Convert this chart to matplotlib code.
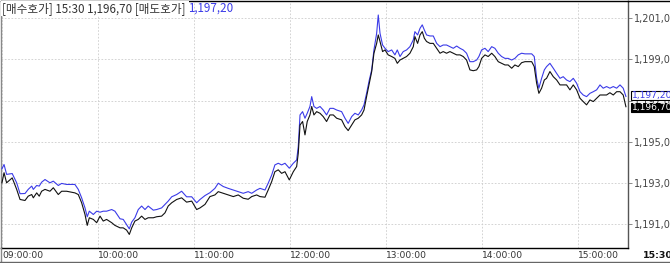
import matplotlib
matplotlib.use("Agg")
import matplotlib.pyplot as plt
import matplotlib.transforms as mtransforms
from matplotlib.lines import Line2D

# ---------------- data (minutes after 09:00) ----------------
time_min = [
    0, 1.3, 2.9, 6.4, 9.2, 11.3, 14.4, 16.4, 18.6, 19.6, 21.7, 23.3, 24.8, 26.9, 30.0, 32.1,
    35.2, 37.3, 40.4, 45.6, 47.7, 49.8, 51.9, 53.3, 54.6, 57.1, 59.2, 61.3, 63.3, 65.4, 68.6,
    70.6, 73.8, 75.8, 77.9, 79.6, 81.1, 83.1, 85.2, 87.3, 89.4, 91.4, 94.6, 96.7, 99.8, 101.9,
    103.9, 106.1, 109.2, 112.3, 115.4, 118.6, 121.7, 123.8, 126.9,
    130.0, 133.1, 135.2, 138.3, 141.4, 144.6, 147.7, 150.8, 153.9, 156.1, 159.2, 161.3, 164.4,
    166.4, 168.6, 170.6, 172.7, 174.8, 176.9, 179.6, 182.1, 184.2, 185.2, 186.3, 187.9, 189.4,
    190.8, 192.5, 193.6, 195.0, 196.7, 198.8, 200.8, 202.9, 205.0, 207.1, 209.2, 212.3, 214.4,
    216.4, 218.6, 220.6, 222.7, 224.8, 226.3, 227.9, 229.6, 231.1, 232.5, 234.2, 235.2, 236.3,
    237.9, 239.4, 241.4, 243.6, 245.6, 247.1, 248.8, 250.8, 252.9, 255.0, 257.1,
    258.1, 259.8, 261.3, 262.7, 264.0, 265.4, 267.5, 269.6, 271.7, 273.8, 275.8, 277.9, 280.0,
    282.1, 284.2, 286.3, 288.3, 290.4, 292.5, 294.6, 296.7, 298.1, 299.8, 301.9, 303.9, 306.1,
    308.1, 310.2, 312.3, 314.4, 316.4, 318.6, 320.6, 322.7, 324.8, 326.9, 329.0, 331.1, 332.7,
    334.2, 335.6, 337.3, 339.0, 340.4, 342.5, 344.6, 346.7, 348.8, 350.8, 352.9, 355.0, 357.1,
    359.2, 361.3, 363.3, 365.4, 367.5, 369.6, 371.7, 373.8, 375.8, 377.9, 380.0, 382.1, 384.2,
    386.3, 388.3, 390.0,
]

bid = [  # 매수호가 (black)
    1193.00, 1193.49, 1193.00, 1193.24, 1192.68, 1192.19, 1192.14, 1192.35, 1192.43, 1192.27,
    1192.51, 1192.35, 1192.59, 1192.68, 1192.59, 1192.76, 1192.43, 1192.59, 1192.59, 1192.51,
    1192.43, 1192.03, 1191.46, 1190.93, 1191.30, 1191.22, 1191.06, 1191.38, 1191.14, 1191.22,
    1191.06, 1190.93, 1190.81, 1190.81, 1190.70, 1190.49, 1190.81, 1191.14, 1191.22, 1191.38,
    1191.22, 1191.30, 1191.30, 1191.35, 1191.38, 1191.54, 1191.87, 1192.03, 1192.19, 1192.27,
    1192.06, 1192.11, 1191.70, 1191.78, 1191.95,
    1192.33, 1192.41, 1192.57, 1192.49, 1192.41, 1192.33, 1192.41, 1192.25, 1192.20, 1192.33,
    1192.41, 1192.33, 1192.30, 1192.65, 1193.06, 1193.54, 1193.63, 1193.46, 1193.54, 1193.14,
    1193.54, 1193.79, 1194.44, 1195.81, 1195.98, 1195.33, 1195.98, 1196.30, 1196.71, 1196.30,
    1196.46, 1196.38, 1196.22, 1195.98, 1196.30, 1196.30, 1196.14, 1196.06, 1195.73, 1195.54,
    1195.81, 1196.06, 1196.14, 1196.30, 1196.54, 1197.19, 1197.84, 1198.41, 1199.30, 1199.78,
    1200.19, 1199.87, 1199.38, 1199.46, 1199.22, 1199.14, 1199.05, 1198.81, 1198.97, 1199.05,
    1199.14, 1199.30, 1199.62,
    1200.11, 1199.78, 1200.19, 1200.35, 1200.03, 1199.87, 1199.78, 1199.78, 1199.54, 1199.30,
    1199.38, 1199.30, 1199.38, 1199.30, 1199.22, 1199.22, 1199.14, 1198.97, 1198.49, 1198.45,
    1198.49, 1198.65, 1199.05, 1199.22, 1199.14, 1199.30, 1199.14, 1198.89, 1198.81, 1198.73,
    1198.73, 1198.57, 1198.73, 1198.65, 1198.84, 1198.89, 1198.89, 1198.89, 1198.65, 1197.84,
    1197.35, 1197.60, 1198.00, 1198.08, 1198.41, 1198.16, 1198.00, 1197.76, 1197.76, 1197.76,
    1197.52, 1197.76, 1197.52, 1197.11, 1196.95, 1196.79, 1197.03, 1196.95, 1197.11, 1197.27,
    1197.27, 1197.27, 1197.38, 1197.27, 1197.43, 1197.43, 1197.27, 1196.70,
]

ask = [  # 매도호가 (blue)
    1193.68, 1193.89, 1193.41, 1193.45, 1193.00, 1192.47, 1192.48, 1192.68, 1192.84, 1192.68,
    1192.87, 1192.84, 1193.03, 1193.16, 1193.00, 1193.08, 1192.87, 1192.97, 1192.92, 1192.92,
    1192.68, 1192.27, 1191.78, 1191.35, 1191.62, 1191.46, 1191.62, 1191.57, 1191.62, 1191.62,
    1191.70, 1191.62, 1191.25, 1191.22, 1190.97, 1190.76, 1191.09, 1191.30, 1191.70, 1191.87,
    1191.70, 1191.87, 1191.67, 1191.70, 1191.78, 1191.95, 1192.11, 1192.32, 1192.43, 1192.59,
    1192.32, 1192.32, 1192.03, 1192.19, 1192.38,
    1192.52, 1192.73, 1192.98, 1192.82, 1192.73, 1192.65, 1192.57, 1192.49, 1192.57, 1192.49,
    1192.65, 1192.73, 1192.65, 1192.98, 1193.38, 1193.87, 1193.95, 1193.87, 1193.95, 1193.71,
    1193.95, 1194.11, 1194.76, 1196.30, 1196.46, 1196.14, 1196.38, 1196.71, 1197.19, 1196.71,
    1196.62, 1196.71, 1196.54, 1196.30, 1196.62, 1196.62, 1196.54, 1196.46, 1196.14, 1195.89,
    1196.22, 1196.38, 1196.30, 1196.54, 1196.79, 1197.35, 1198.00, 1198.49, 1199.46, 1200.27,
    1201.16, 1200.27, 1199.70, 1199.54, 1199.38, 1199.46, 1199.22, 1199.46, 1199.14, 1199.38,
    1199.46, 1199.62, 1199.95,
    1200.35, 1200.19, 1200.51, 1200.68, 1200.43, 1200.19, 1200.14, 1200.14, 1199.78, 1199.62,
    1199.70, 1199.70, 1199.62, 1199.54, 1199.65, 1199.54, 1199.46, 1199.30, 1198.89, 1198.89,
    1198.97, 1199.14, 1199.46, 1199.54, 1199.38, 1199.62, 1199.54, 1199.30, 1199.14, 1199.05,
    1199.05, 1198.97, 1199.05, 1199.22, 1199.30, 1199.27, 1199.27, 1199.27, 1199.14, 1198.08,
    1197.60, 1198.08, 1198.49, 1198.65, 1198.81, 1198.57, 1198.32, 1198.08, 1198.16, 1198.00,
    1197.92, 1198.08, 1197.84, 1197.43, 1197.27, 1197.19, 1197.35, 1197.43, 1197.52, 1197.76,
    1197.60, 1197.68, 1197.60, 1197.68, 1197.60, 1197.76, 1197.60, 1197.20,
]

hour_ticks = [0, 60, 120, 180, 240, 300, 360]
hour_labels = ["09:00:00", "10:00:00", "11:00:00", "12:00:00", "13:00:00", "14:00:00", "15:00:00"]
price_ticks = [1191, 1193, 1195, 1197, 1199, 1201]
last_time = "15:30"
bid_name = "[매수호가]"
ask_name = "[매도호가]"

# ---------------- figure ----------------
W, H = 670, 263
fig = plt.figure(figsize=(W / 100, H / 100), dpi=100)
fig.patch.set_facecolor("white")
ax = fig.add_axes([1 / W, 15 / H, 627 / W, 247 / H])

BLUE = "#3b3be8"
BLACK = "#111111"
ax.plot(time_min, ask, color=BLUE, lw=0.8, zorder=3)
ax.plot(time_min, bid, color=BLACK, lw=0.8, zorder=4)

ax.set_xlim(-0.6, 391.3)
ax.set_ylim(1189.83, 1201.84)

ax.set_xticks(hour_ticks)
ax.set_xticklabels(hour_labels)
for lab in ax.get_xticklabels():
    lab.set_ha("left")
ax.tick_params(axis="x", length=0, pad=2.5, labelsize=6.6, colors="#333333")

def fmt_price(v):
    s = f"{v:,.2f}"
    return s.replace(".", "#").replace("#", ",")

ax.yaxis.tick_right()
ax.set_yticks(price_ticks)
ax.set_yticklabels([fmt_price(v) for v in price_ticks])
ax.tick_params(axis="y", length=3, width=0.6, color="#777777", pad=1.5,
               labelsize=7, labelcolor="#444444")

ax.grid(True, color="#cccccc", linestyle=(0, (2, 2)), lw=0.6)
ax.set_axisbelow(True)

ax.spines["left"].set_color("#888888")
ax.spines["left"].set_linewidth(1.0)
ax.spines["top"].set_color("#000000")
ax.spines["top"].set_linewidth(1.0)
ax.spines["right"].set_color("#555555")
ax.spines["right"].set_linewidth(1.0)
ax.spines["bottom"].set_color("#000000")
ax.spines["bottom"].set_linewidth(1.0)

# frame lines around the time strip
fig.add_artist(Line2D([0.5 / W, 0.5 / W], [0, 15 / H], color="#888888", lw=1.0))
fig.add_artist(Line2D([0, 1], [0.8 / H, 0.8 / H], color="#666666", lw=1.0))
fig.add_artist(Line2D([628 / W, 1], [1 - 0.8 / H, 1 - 0.8 / H], color="#000000", lw=1.0))

# last time label (bold)
fig.text(643 / W, 7.5 / H, last_time, fontsize=6.8, fontweight="bold",
         color="#111111", va="center", ha="left")

# current price boxes on the right (nudged apart so the boxes just touch)
trans = mtransforms.blended_transform_factory(ax.transAxes, ax.transData)
up = trans + mtransforms.ScaledTranslation(0, 1.2 / 100, fig.dpi_scale_trans)
down = trans + mtransforms.ScaledTranslation(0, -0.8 / 100, fig.dpi_scale_trans)
ax.text(1.0 + 3.5 / 627, ask[-1], fmt_price(ask[-1]), transform=up, fontsize=6.6,
        color=BLUE, va="center", ha="left", clip_on=False, zorder=6,
        bbox=dict(boxstyle="square,pad=0.0", fc="white", ec="black", lw=0.8))
ax.text(1.0 + 3.5 / 627, bid[-1], fmt_price(bid[-1]), transform=down, fontsize=6.6,
        color="white", va="center", ha="left", clip_on=False, zorder=7,
        bbox=dict(boxstyle="square,pad=0.05", fc="black", ec="black", lw=0.8))

# title line
fam = ["Noto Sans CJK KR", "DejaVu Sans"]
t1 = fig.text(2 / W, 1 - 8.5 / H,
              f"{bid_name} {last_time} {fmt_price(bid[-1])} {ask_name} ",
              fontsize=8.4, family=fam, color="#333333", va="center", ha="left",
              bbox=dict(boxstyle="square,pad=0.05", fc="white", ec="none"), zorder=10)
fig.canvas.draw()
bb = t1.get_window_extent()
fig.text(bb.x1 / W, 1 - 8.5 / H, fmt_price(ask[-1]), fontsize=8.4, family=fam,
         color=BLUE, va="center", ha="left", zorder=10)

fig.savefig("out.png", dpi=100)
